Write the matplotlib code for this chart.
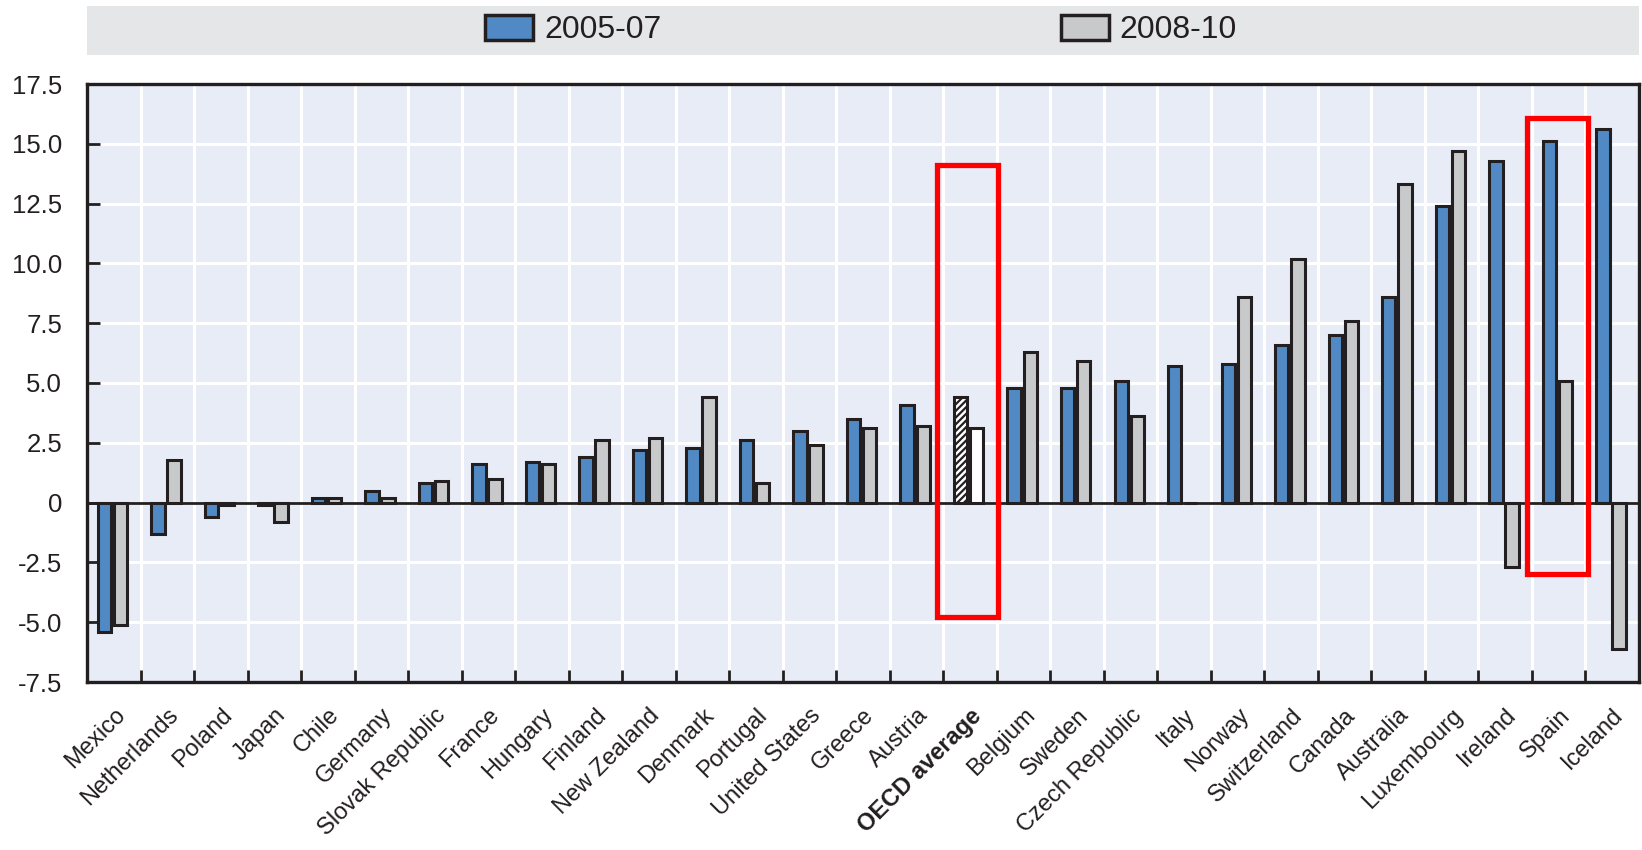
import numpy as np
import matplotlib
matplotlib.use('Agg')
import matplotlib.pyplot as plt
from matplotlib.patches import Rectangle, Patch
from matplotlib.transforms import ScaledTranslation

plt.rcParams['font.family'] = ['Liberation Sans', 'DejaVu Sans']
plt.rcParams['hatch.linewidth'] = 1.6

countries = ['Mexico', 'Netherlands', 'Poland', 'Japan', 'Chile', 'Germany',
             'Slovak Republic', 'France', 'Hungary', 'Finland', 'New Zealand',
             'Denmark', 'Portugal', 'United States', 'Greece', 'Austria',
             'OECD average', 'Belgium', 'Sweden', 'Czech Republic', 'Italy',
             'Norway', 'Switzerland', 'Canada', 'Australia', 'Luxembourg',
             'Ireland', 'Spain', 'Iceland']
v_2005_07 = [-5.4, -1.3, -0.6, -0.1, 0.2, 0.5, 0.8, 1.6, 1.7, 1.9, 2.2, 2.3,
             2.6, 3.0, 3.5, 4.1, 4.4, 4.8, 4.8, 5.1, 5.7, 5.8, 6.6, 7.0, 8.6,
             12.4, 14.3, 15.1, 15.6]
v_2008_10 = [-5.1, 1.8, -0.1, -0.8, 0.2, 0.2, 0.9, 1.0, 1.6, 2.6, 2.7, 4.4,
             0.8, 2.4, 3.1, 3.2, 3.1, 6.3, 5.9, 3.6, 0.0, 8.6, 10.2, 7.6, 13.3,
             14.7, -2.7, 5.1, -6.1]
yticks = [-7.5, -5.0, -2.5, 0, 2.5, 5.0, 7.5, 10.0, 12.5, 15.0, 17.5]
ytick_labels = ['-7.5', '-5.0', '-2.5', '0', '2.5', '5.0', '7.5', '10.0',
                '12.5', '15.0', '17.5']
highlight = ['OECD average', 'Spain']

BLUE = '#5089c4'
GRAY = '#c8c9cb'
INK = '#231f20'
BG = '#e7ecf7'

fig = plt.figure(figsize=(16.42, 8.5), dpi=100)
ax = fig.add_axes([87 / 1642, 1 - 682 / 850, 1552 / 1642, 598 / 850])
ax.set_facecolor(BG)

x = np.arange(len(countries))
oecd = countries.index('OECD average')
c1 = [BLUE] * len(x)
c2 = [GRAY] * len(x)
c1[oecd] = 'white'
c2[oecd] = 'white'
w = 0.25
b1 = ax.bar(x - 0.175, v_2005_07, w, color=c1, edgecolor=INK, linewidth=2.2,
            zorder=3)
b2 = ax.bar(x + 0.125, v_2008_10, w, color=c2, edgecolor=INK, linewidth=2.2,
            zorder=3)
b1[oecd].set_hatch('/////')

ax.axhline(0, color=INK, lw=2, zorder=2)

ax.set_xlim(-0.5, len(x) - 0.5)
ax.set_ylim(-7.5, 17.5)
ax.set_yticks(yticks)
ax.set_yticklabels(ytick_labels, fontsize=18.5, color=INK)
ax.set_xticks(x)
ax.set_xticklabels(countries, rotation=45, ha='right', va='top',
                   rotation_mode='anchor', fontsize=17, color=INK)
ax.get_xticklabels()[oecd].set_fontweight('bold')
off = ScaledTranslation(8 / 100, 0, fig.dpi_scale_trans)
for lbl in ax.get_xticklabels():
    lbl.set_transform(lbl.get_transform() + off)
ax.set_xticks(x[:-1] + 0.5, minor=True)
ax.tick_params(axis='x', which='major', length=0, pad=16)
ax.tick_params(axis='x', which='minor', direction='in', length=9, width=2,
               color=INK)
ax.tick_params(axis='y', direction='in', length=9, width=2, color=INK, pad=18)
ax.grid(which='minor', axis='x', color='white', lw=2.2, zorder=1)
ax.grid(which='major', axis='y', color='white', lw=2.2, zorder=1)
ax.set_axisbelow(True)
for s in ax.spines.values():
    s.set_color(INK)
    s.set_linewidth(2.4)

# red highlight boxes
boxes = {'OECD average': (-0.62, 0.52, -4.8, 14.13),
         'Spain': (-0.6, 0.55, -3.0, 16.07)}
for name in highlight:
    i = countries.index(name)
    l, r, lo, hi = boxes[name]
    ax.add_patch(Rectangle((i + l, lo), r - l, hi - lo, fill=False,
                           edgecolor='red', lw=3.8, zorder=5))

# legend band
fig.patches.append(Rectangle((87 / 1642, 1 - 55 / 850), 1552 / 1642, 49 / 850,
                             transform=fig.transFigure, facecolor='#e5e6e8',
                             edgecolor='none', zorder=0))
handles = [Patch(facecolor=BLUE, edgecolor=INK, lw=2.5, label='2005-07'),
           Patch(facecolor=GRAY, edgecolor=INK, lw=2.5, label='2008-10')]
leg = fig.legend(handles=handles, loc='center', ncol=2, frameon=False,
                 bbox_to_anchor=(861 / 1642, 1 - 30 / 850), fontsize=23,
                 handlelength=1.5, handleheight=0.85, handletextpad=0.35,
                 columnspacing=12.5)
for t in leg.get_texts():
    t.set_color(INK)

fig.savefig('out.png', dpi=100)
